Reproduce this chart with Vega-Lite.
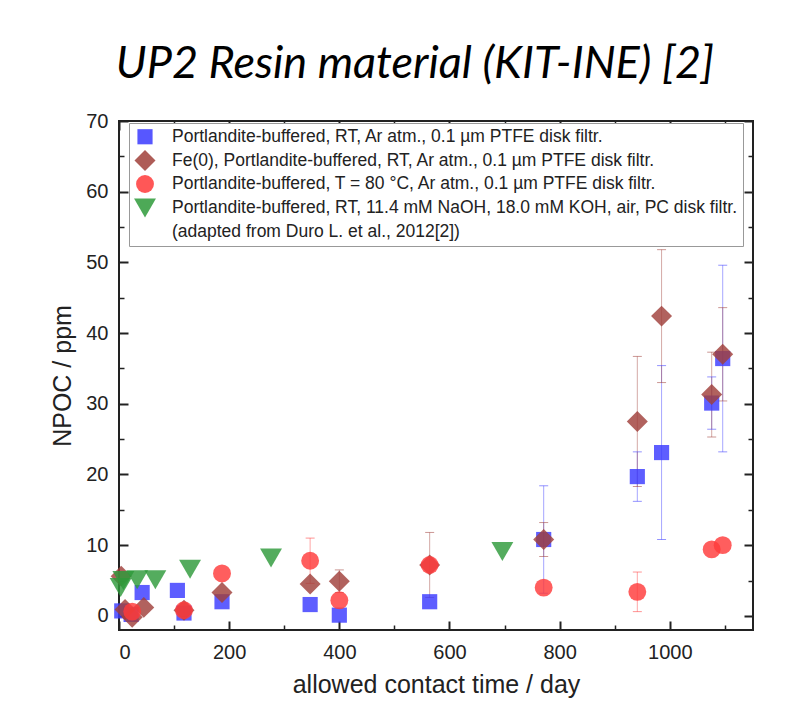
{
  "$schema": "https://vega.github.io/schema/vega-lite/v6.json",
  "width": 634,
  "height": 509,
  "autosize": {"type": "none"},
  "padding": {"left": 119, "top": 121, "right": 36, "bottom": 73},
  "background": "white",
  "title": {
    "text": "UP2 Resin material (KIT-INE) [2]",
    "font": "Lato",
    "fontStyle": "italic",
    "fontWeight": "normal",
    "fontSize": 45,
    "color": "black",
    "anchor": "middle",
    "frame": "group",
    "baseline": "alphabetic",
    "offset": -12,
    "dx": -21
  },
  "datasets": {
    "pts": [
      {"s": "A", "d": 5, "v": 0.7},
      {"s": "A", "d": 22, "v": 0.2},
      {"s": "A", "d": 42, "v": 3.3},
      {"s": "A", "d": 106, "v": 3.6},
      {"s": "A", "d": 118, "v": 0.4},
      {"s": "A", "d": 187, "v": 2.0},
      {"s": "A", "d": 347, "v": 1.6},
      {"s": "A", "d": 400, "v": 0.1},
      {"s": "A", "d": 564, "v": 2.0},
      {"s": "A", "d": 771, "v": 10.8},
      {"s": "A", "d": 941, "v": 19.7},
      {"s": "A", "d": 985, "v": 23.1},
      {"s": "A", "d": 1076, "v": 30.1},
      {"s": "A", "d": 1096, "v": 36.4},
      {"s": "B", "d": 4, "v": 5.6},
      {"s": "B", "d": 11, "v": 0.9},
      {"s": "B", "d": 24, "v": -0.2},
      {"s": "B", "d": 45, "v": 1.2},
      {"s": "B", "d": 118, "v": 0.8},
      {"s": "B", "d": 187, "v": 3.3},
      {"s": "B", "d": 347, "v": 4.5},
      {"s": "B", "d": 400, "v": 4.9},
      {"s": "B", "d": 564, "v": 7.2},
      {"s": "B", "d": 771, "v": 10.8},
      {"s": "B", "d": 941, "v": 27.5},
      {"s": "B", "d": 985, "v": 42.4},
      {"s": "B", "d": 1076, "v": 31.3},
      {"s": "B", "d": 1096, "v": 37.0},
      {"s": "C", "d": 24, "v": 0.6},
      {"s": "C", "d": 118, "v": 0.8},
      {"s": "C", "d": 187, "v": 6.0},
      {"s": "C", "d": 347, "v": 7.8},
      {"s": "C", "d": 400, "v": 2.2},
      {"s": "C", "d": 564, "v": 7.2},
      {"s": "C", "d": 771, "v": 4.0},
      {"s": "C", "d": 941, "v": 3.4},
      {"s": "C", "d": 1076, "v": 9.4},
      {"s": "C", "d": 1096, "v": 10.0},
      {"s": "D", "d": 3, "v": 4.0},
      {"s": "D", "d": 8, "v": 5.0},
      {"s": "D", "d": 33, "v": 5.1},
      {"s": "D", "d": 66, "v": 5.1},
      {"s": "D", "d": 129, "v": 6.6},
      {"s": "D", "d": 276, "v": 8.2},
      {"s": "D", "d": 696, "v": 9.1}
    ],
    "err": [
      {"s": "A", "d": 771, "lo": 3.2, "hi": 18.4},
      {"s": "A", "d": 941, "lo": 16.2, "hi": 23.2},
      {"s": "A", "d": 985, "lo": 10.8, "hi": 35.4},
      {"s": "A", "d": 1076, "lo": 26.4, "hi": 33.8},
      {"s": "A", "d": 1096, "lo": 23.2, "hi": 49.6},
      {"s": "B", "d": 118, "lo": -0.1, "hi": 1.7},
      {"s": "B", "d": 400, "lo": 3.3, "hi": 6.5},
      {"s": "B", "d": 564, "lo": 2.6, "hi": 11.8},
      {"s": "B", "d": 771, "lo": 8.4, "hi": 13.2},
      {"s": "B", "d": 941, "lo": 18.3, "hi": 36.7},
      {"s": "B", "d": 985, "lo": 33.0, "hi": 51.8},
      {"s": "B", "d": 1076, "lo": 25.3, "hi": 37.3},
      {"s": "B", "d": 1096, "lo": 30.4, "hi": 43.6},
      {"s": "C", "d": 347, "lo": 4.6, "hi": 11.0},
      {"s": "C", "d": 941, "lo": 0.6, "hi": 6.2}
    ],
    "dummy": [{"d": 0, "v": 0}]
  },
  "layer": [
    {
      "data": {"name": "err"},
      "mark": {"type": "rule", "strokeWidth": 1, "opacity": 0.45},
      "encoding": {
        "x": {"field": "d", "type": "quantitative", "scale": {"domain": [0, 1151], "nice": false, "zero": false}, "axis": null},
        "y": {"field": "lo", "type": "quantitative", "scale": {"domain": [-2, 70], "nice": false, "zero": false}, "axis": null},
        "y2": {"field": "hi"},
        "color": {"field": "s", "type": "nominal"}
      }
    },
    {
      "data": {"name": "err"},
      "mark": {"type": "tick", "orient": "horizontal", "size": 9, "thickness": 1, "opacity": 0.55},
      "encoding": {
        "x": {"field": "d", "type": "quantitative", "axis": null},
        "y": {"field": "hi", "type": "quantitative", "axis": null},
        "color": {"field": "s", "type": "nominal"}
      }
    },
    {
      "data": {"name": "err"},
      "mark": {"type": "tick", "orient": "horizontal", "size": 9, "thickness": 1, "opacity": 0.55},
      "encoding": {
        "x": {"field": "d", "type": "quantitative", "axis": null},
        "y": {"field": "lo", "type": "quantitative", "axis": null},
        "color": {"field": "s", "type": "nominal"}
      }
    },
    {
      "data": {"name": "pts"},
      "mark": {"type": "point", "filled": true, "opacity": 0.82},
      "encoding": {
        "x": {
          "field": "d", "type": "quantitative",
          "scale": {"domain": [0, 1151], "nice": false, "zero": false},
          "axis": {"orient": "bottom", "values": [0, 200, 400, 600, 800, 1000], "format": "d", "tickSize": -9, "tickWidth": 2, "labelPadding": 21, "title": "allowed contact time / day", "titlePadding": 10}
        },
        "y": {
          "field": "v", "type": "quantitative",
          "scale": {"domain": [-2, 70], "nice": false, "zero": false},
          "axis": {"orient": "left", "values": [0, 10, 20, 30, 40, 50, 60, 70], "tickSize": -9, "tickWidth": 2, "labelPadding": 20, "title": "NPOC / ppm", "titlePadding": 10}
        },
        "color": {
          "field": "s", "type": "nominal",
          "scale": {"domain": ["A", "B", "C", "D", "E"], "range": ["#3a3aff", "#a0403a", "#ff3a3a", "#2e9a3a", "rgba(0,0,0,0)"]},
          "legend": {
            "labelExpr": "{'A': 'Portlandite-buffered, RT, Ar atm., 0.1 µm PTFE disk filtr.', 'B': 'Fe(0), Portlandite-buffered, RT, Ar atm., 0.1 µm PTFE disk filtr.', 'C': 'Portlandite-buffered, T = 80 °C, Ar atm., 0.1 µm PTFE disk filtr.', 'D': 'Portlandite-buffered, RT, 11.4 mM NaOH, 18.0 mM KOH, air, PC disk filtr.', 'E': '(adapted from Duro L. et al., 2012[2])'}[datum.value]"
          }
        },
        "shape": {
          "field": "s", "type": "nominal",
          "scale": {"domain": ["A", "B", "C", "D", "E"], "range": ["square", "diamond", "circle", "triangle-down", "circle"]}
        },
        "size": {
          "field": "s", "type": "nominal",
          "scale": {"type": "ordinal", "domain": ["A", "B", "C", "D", "E"], "range": [230, 440, 320, 480, 100]}
        }
      }
    },
    {
      "data": {"name": "dummy"},
      "mark": {"type": "point", "opacity": 0},
      "encoding": {
        "x": {"field": "d", "type": "quantitative", "axis": {"orient": "bottom", "values": [100, 300, 500, 700, 900, 1100], "tickSize": -5, "tickWidth": 1.5, "labels": false, "title": null}},
        "y": {"field": "v", "type": "quantitative", "axis": {"orient": "left", "values": [5, 15, 25, 35, 45, 55, 65], "tickSize": -5, "tickWidth": 1.5, "labels": false, "title": null}}
      }
    },
    {
      "data": {"name": "dummy"},
      "mark": {"type": "point", "opacity": 0},
      "encoding": {
        "x": {"field": "d", "type": "quantitative", "axis": {"orient": "top", "values": [0, 200, 400, 600, 800, 1000], "tickSize": -9, "tickWidth": 2, "labels": false, "title": null}},
        "y": {"field": "v", "type": "quantitative", "axis": {"orient": "right", "values": [0, 10, 20, 30, 40, 50, 60, 70], "tickSize": -9, "tickWidth": 2, "labels": false, "title": null}}
      }
    },
    {
      "data": {"name": "dummy"},
      "mark": {"type": "point", "opacity": 0},
      "encoding": {
        "x": {"field": "d", "type": "quantitative", "axis": {"orient": "top", "values": [100, 300, 500, 700, 900, 1100], "tickSize": -5, "tickWidth": 1.5, "labels": false, "title": null}},
        "y": {"field": "v", "type": "quantitative", "axis": {"orient": "right", "values": [5, 15, 25, 35, 45, 55, 65], "tickSize": -5, "tickWidth": 1.5, "labels": false, "title": null}}
      }
    }
  ],
  "resolve": {"axis": {"x": "independent", "y": "independent"}},
  "config": {
    "view": {"stroke": "#222", "strokeWidth": 2},
    "axis": {
      "domain": false,
      "grid": false,
      "tickColor": "#222",
      "labelFont": "Liberation Sans",
      "labelFontSize": 20,
      "labelColor": "#222",
      "titleFont": "Liberation Sans",
      "titleFontSize": 25,
      "titleFontWeight": "normal",
      "titleColor": "#222"
    },
    "legend": {
      "orient": "none",
      "legendX": 10,
      "legendY": 2,
      "title": null,
      "padding": 5,
      "strokeColor": "#999",
      "fillColor": "white",
      "labelFont": "Liberation Sans",
      "labelFontSize": 17.5,
      "labelColor": "#222",
      "labelLimit": 700,
      "labelOffset": 16,
      "symbolOpacity": 0.85,
      "symbolStrokeWidth": 0,
      "rowPadding": 4
    }
  }
}
